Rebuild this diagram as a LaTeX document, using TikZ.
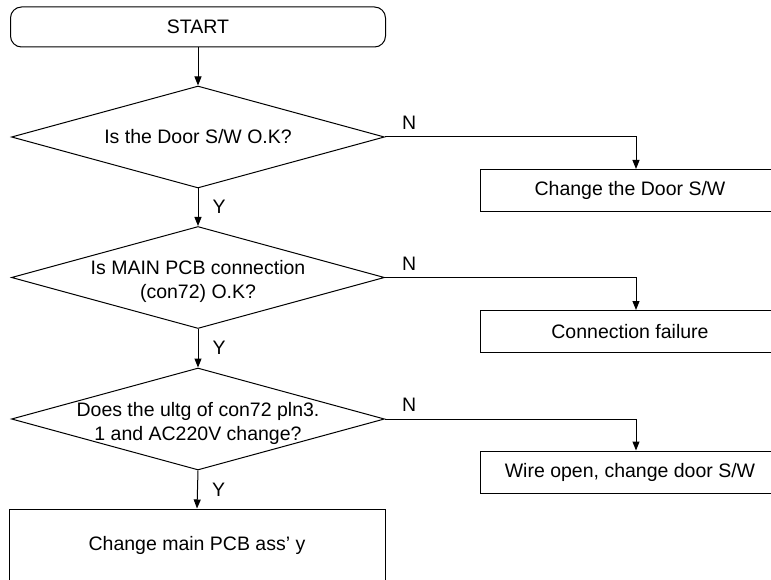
\documentclass[tikz,border=0pt]{standalone}
\usepackage{fontspec}
\setmainfont{Liberation Sans}
\usetikzlibrary{shapes.geometric, arrows.meta}

\begin{document}
\begin{tikzpicture}[x=1pt, y=-1pt, line width=1pt, >={Triangle[length=9pt, width=7pt]},
    font=\fontsize{19.5}{24}\selectfont,
    terminal/.style={draw, rectangle, rounded corners=11pt, minimum width=375pt, minimum height=40pt, inner sep=0pt},
    decision/.style={draw, diamond, aspect=3.66, minimum width=373pt, minimum height=102pt, inner sep=0pt},
    process/.style={draw, rectangle, minimum width=300pt, minimum height=42pt, inner sep=0pt},
    answer/.style={inner sep=0pt}]
    % 画布大小
    \useasboundingbox (0,0) rectangle (771,580);
    \clip (0,0) rectangle (771,580);

    % 主流程
    \node[terminal] (start) at (198,27) {START};
    \node[decision] (q1) at (198,137) {};
    \node[decision] (q2) at (198,277.5) {};
    \node[decision] (q3) at (198,419) {};
    \node[draw, rectangle, minimum width=376pt, minimum height=72pt] (fix) at (197,545) {Change main PCB ass' y};

    % 判断框中的文字
    \node[align=center] (t1) at (q1) {Is the Door S/W O.K?};
    \node[align=center, yshift=-4pt] (t2) at (q2) {Is MAIN PCB connection\\(con72) O.K?};
    \node[align=center, yshift=-4pt] (t3) at (q3) {Does the ultg of con72 pln3.\\1 and AC220V change?};

    % 右侧处理框
    \node[process] (r1) at (630,190.5) {Change the Door S/W};
    \node[process] (r2) at (630,331.5) {Connection failure};
    \node[process] (r3) at (630,472) {Wire open, change door S/W};

    % Y 分支
    \draw[->] (start.south) -- (q1.north);
    \draw[->] (q1.south) -- node[answer, right=14pt] {Y} (q2.north);
    \draw[->] (q2.south) -- node[answer, right=14pt] {Y} (q3.north);
    \draw[->] (q3.south) -- node[answer, right=14pt] {Y} (fix.north);

    % N 分支
    \draw[->] (q1.east) -| node[answer, pos=0.048, above=7pt] {N} ([xshift=6pt]r1.north);
    \draw[->] (q2.east) -| node[answer, pos=0.048, above=7pt] {N} ([xshift=6pt]r2.north);
    \draw[->] (q3.east) -| node[answer, pos=0.048, above=7pt] {N} ([xshift=6pt]r3.north);
\end{tikzpicture}
\end{document}
